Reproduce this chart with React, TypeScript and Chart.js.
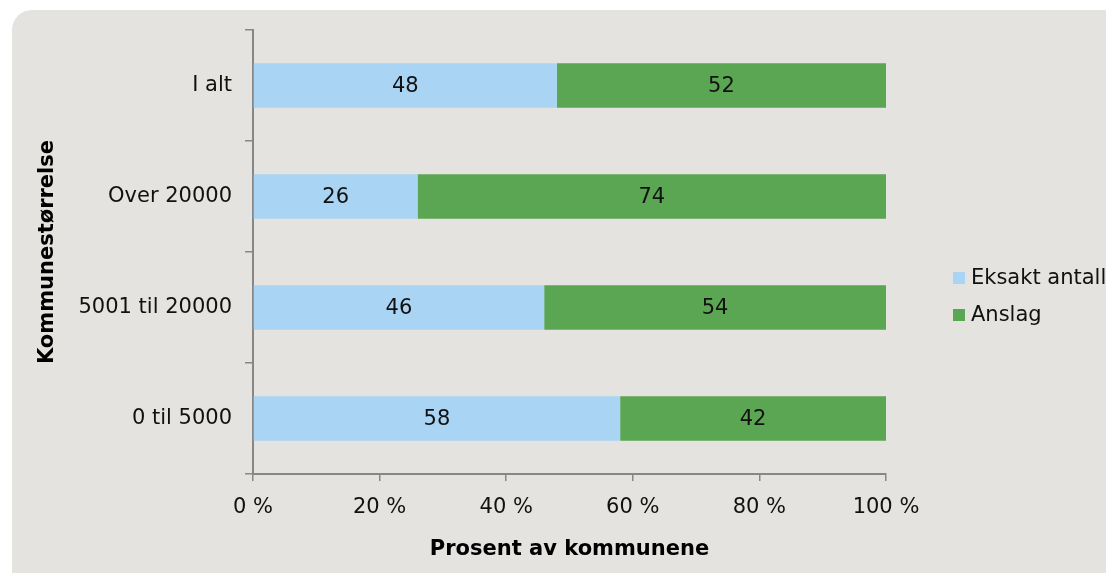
import React, { useEffect, useRef } from "react";
import { Chart, registerables } from "chart.js";

Chart.register(...registerables);

const categories = ["I alt", "Over 20000", "5001 til 20000", "0 til 5000"];
const seriesNames = ["Eksakt antall", "Anslag"];
const eksaktValues = [48, 26, 46, 58];
const anslagValues = [52, 74, 54, 42];
const xTickLabels = ["0 %", "20 %", "40 %", "60 %", "80 %", "100 %"];
const seriesColors = ["#a9d4f3", "#5ba653"];

const FONT = "'DejaVu Sans', Verdana, sans-serif";
const AXIS_GRAY = "#878787";
const TEXT = "#111111";
const SIZE = 21;

const valueLabels = {
  id: "valueLabels",
  afterDatasetsDraw(chart: any) {
    const ctx = chart.ctx;
    ctx.save();
    ctx.font = `${SIZE}px ${FONT}`;
    ctx.fillStyle = TEXT;
    ctx.textAlign = "center";
    ctx.textBaseline = "middle";
    chart.data.datasets.forEach((ds: any, i: number) => {
      chart.getDatasetMeta(i).data.forEach((el: any, j: number) => {
        const p = el.getCenterPoint();
        ctx.fillText(String(ds.data[j]), p.x, p.y + 1);
      });
    });
    ctx.restore();
  },
};

const sideLegend = {
  id: "sideLegend",
  afterDraw(chart: any) {
    const ctx = chart.ctx;
    const area = chart.chartArea;
    ctx.save();
    ctx.font = `${SIZE}px ${FONT}`;
    ctx.textAlign = "left";
    ctx.textBaseline = "middle";
    const x0 = area.right + 67;
    const yStart = 268;
    const rowGap = 37;
    chart.data.datasets.forEach((ds: any, i: number) => {
      const cy = yStart + i * rowGap;
      ctx.fillStyle = ds.backgroundColor;
      ctx.fillRect(x0, cy - 6, 12, 12);
      ctx.fillStyle = TEXT;
      ctx.fillText(ds.label, x0 + 18, cy + 1);
    });
    ctx.restore();
  },
};

export default function App() {
  const ref = useRef<HTMLCanvasElement | null>(null);

  useEffect(() => {
    if (!ref.current) return;
    const chart = new Chart(ref.current, {
      type: "bar",
      data: {
        labels: categories,
        datasets: [
          {
            label: seriesNames[0],
            data: eksaktValues,
            backgroundColor: seriesColors[0],
            barPercentage: 0.4,
            categoryPercentage: 1,
          },
          {
            label: seriesNames[1],
            data: anslagValues,
            backgroundColor: seriesColors[1],
            barPercentage: 0.4,
            categoryPercentage: 1,
          },
        ],
      },
      options: {
        indexAxis: "y",
        responsive: false,
        animation: false,
        layout: { padding: { left: 0, top: 20, right: 220, bottom: 0 } },
        plugins: {
          legend: { display: false },
          tooltip: { enabled: false },
        },
        scales: {
          x: {
            stacked: true,
            min: 0,
            max: 100,
            ticks: {
              stepSize: 20,
              padding: 14,
              color: TEXT,
              font: { family: FONT, size: SIZE },
              callback: (_v: any, i: number) => xTickLabels[i],
            },
            grid: {
              drawOnChartArea: false,
              drawTicks: true,
              tickLength: 7,
              color: AXIS_GRAY,
              lineWidth: 1.5,
            },
            border: { display: true, color: AXIS_GRAY, width: 2 },
            title: {
              display: true,
              text: "Prosent av kommunene",
              color: "#000",
              font: { family: FONT, size: 21, weight: "bold" },
              padding: { top: 0, bottom: 11 },
            },
            afterFit: (s: any) => {
              s.height = 99;
            },
          },
          y: {
            stacked: true,
            offset: true,
            ticks: {
              padding: 13,
              color: TEXT,
              font: { family: FONT, size: SIZE },
            },
            grid: {
              offset: true,
              drawOnChartArea: false,
              drawTicks: true,
              tickLength: 8,
              color: AXIS_GRAY,
              lineWidth: 1.5,
            },
            border: { display: true, color: AXIS_GRAY, width: 2 },
            title: {
              display: true,
              text: "Kommunestørrelse",
              color: "#000",
              font: { family: FONT, size: 21, weight: "bold" },
              padding: { top: 23, bottom: 0 },
            },
            afterFit: (s: any) => {
              s.width = 241;
              s.paddingTop = 0;
              s.paddingBottom = 0;
            },
          },
        },
      } as any,
      plugins: [valueLabels, sideLegend],
    });
    return () => chart.destroy();
  }, []);

  return (
    <div
      style={{
        position: "fixed",
        left: 12,
        top: 10,
        width: 1094,
        height: 563,
        background: "#e4e3df",
        borderTopLeftRadius: 20,
        overflow: "hidden",
      }}
    >
      <canvas ref={ref} width={1094} height={563} style={{ display: "block" }} />
    </div>
  );
}
